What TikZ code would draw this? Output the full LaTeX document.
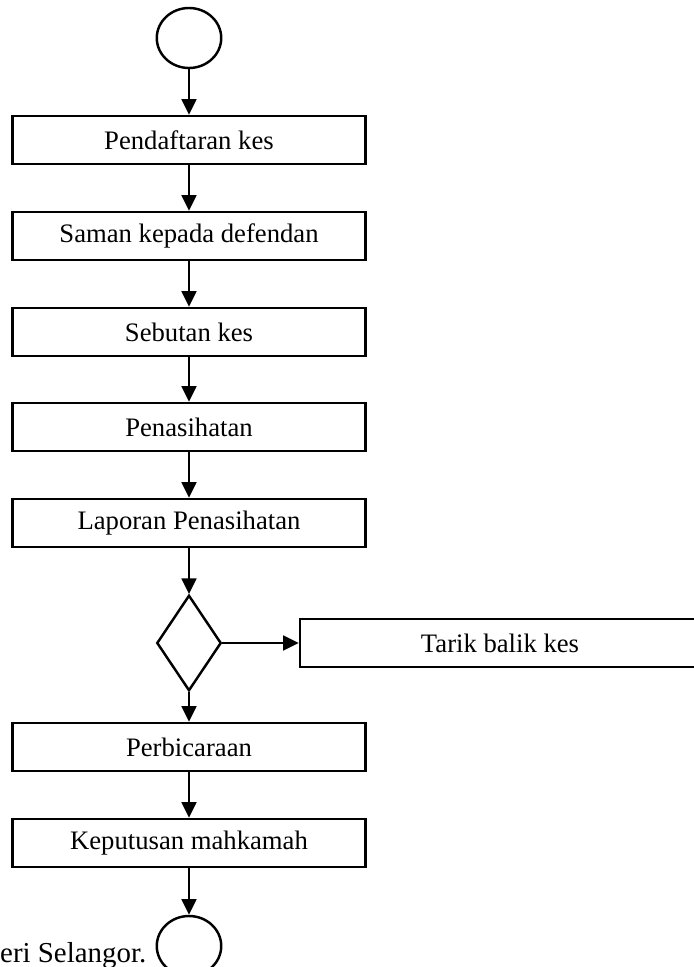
\documentclass[tikz,border=0pt]{standalone}
\usepackage{fontspec}
\setmainfont{Liberation Serif}
\usetikzlibrary{arrows.meta,shapes.geometric}

\begin{document}
\begin{tikzpicture}[x=0.45pt,y=-0.45pt,line width=1.1pt,
        >={Triangle[length=7pt,width=6.6pt]},
        font=\fontsize{12pt}{14pt}\selectfont,
        stepbox/.style={draw,minimum width=159pt,minimum height=21.6pt,inner sep=0pt},
        terminal/.style={draw,ellipse,minimum width=29pt,minimum height=27pt,inner sep=0pt},
        decision/.style={draw,diamond,minimum width=29pt,minimum height=43pt,inner sep=0pt}]
        \def\midX{189}
        \def\sideX{500}
        \useasboundingbox (0,0) rectangle (694,967);

        \node[terminal] (start) at (\midX,38) {};
        \foreach \name/\y/\txt in {daftar/140/Pendaftaran kes,saman/236/Saman kepada defendan,sebutan/332/Sebutan kes,nasihat/427/Penasihatan,laporan/523/Laporan Penasihatan,bicara/747/Perbicaraan,putusan/843/Keputusan mahkamah} {
                \node[stepbox] (\name) at (\midX,\y) {\txt};
            }
        \node[decision] (pilih) at (\midX,643) {};
        \node[stepbox,minimum width=180pt] (tarik) at (\sideX,643) {Tarik balik kes};
        \node[terminal] (tamat) at (\midX,946) {};
        \node[anchor=base west,inner sep=0pt,font=\fontsize{13pt}{15pt}\selectfont] (nota) at (-1,962) {eri Selangor.};

        % main flow
        \draw[->] (start) -- (daftar);
        \foreach \a/\b in {daftar/saman,saman/sebutan,sebutan/nasihat,nasihat/laporan,laporan/pilih,pilih/bicara,bicara/putusan,putusan/tamat} {
                \draw[->] (\a) -- (\b);
            }
        \draw[->] (pilih) -- (tarik);
    \end{tikzpicture}
\end{document}
